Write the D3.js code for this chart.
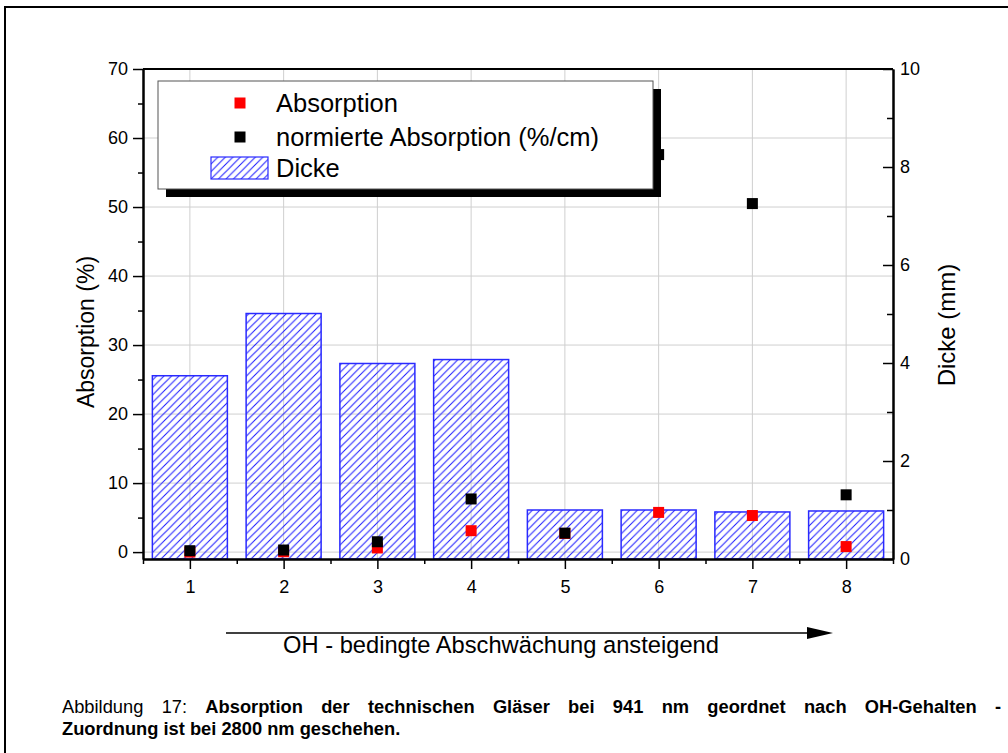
<!DOCTYPE html>
<html>
<head>
<meta charset="utf-8">
<script src="https://cdn.jsdelivr.net/npm/d3@7"></script>
<style>
  body { margin: 0; background: #fff; }
  svg { display: block; }
  text { font-family: "Liberation Sans", Arial, sans-serif; fill: #000; }
</style>
</head>
<body>
<svg id="chart" width="1008" height="753"></svg>
<script>
// Glass samples ordered by OH content
const categories = [1, 2, 3, 4, 5, 6, 7, 8];
// Absorption at 941 nm (%)
const absorption = [0.0, 0.05, 0.6, 3.1, 2.7, 5.75, 5.3, 0.8];
// Absorption normalised to thickness (%/cm)
const normAbsorption = [0.2, 0.3, 1.5, 7.7, 2.75, 57.6, 50.5, 8.3];
// Sample thickness (mm)
const thickness = [3.74, 5.01, 3.99, 4.07, 1.0, 1.0, 0.96, 0.98];

const leftTicks = [0, 10, 20, 30, 40, 50, 60, 70];
const leftMinor = [5, 15, 25, 35, 45, 55, 65];
const rightTicks = [0, 2, 4, 6, 8, 10];
const rightMinor = [1, 3, 5, 7, 9];
const xMinor = [0.5, 1.5, 2.5, 3.5, 4.5, 5.5, 6.5, 7.5, 8.5];
const legendLabels = ["Absorption", "normierte Absorption (%/cm)", "Dicke"];
const leftTitle = "Absorption (%)";
const rightTitle = "Dicke (mm)";
const arrowLabel = "OH - bedingte Abschwächung ansteigend";
const captionLead = "Abbildung 17: ";
const captionBold1 = "Absorption der technischen Gläser bei 941 nm geordnet nach OH-Gehalten -";
const captionBold2 = "Zuordnung ist bei 2800 nm geschehen.";

const svg = d3.select("#chart");
const plot = { left: 143, right: 893, top: 69, bottom: 559 };

const x = d3.scaleLinear().domain([0.5, 8.5]).range([plot.left, plot.right]);
const yL = d3.scaleLinear().domain([-1, 70]).range([plot.bottom, plot.top]);
const yR = d3.scaleLinear().domain([0, 10]).range([plot.bottom, plot.top]);

// outer page frame
svg.append("path")
  .attr("d", "M5,760 V7 H1015")
  .attr("fill", "none").attr("stroke", "#000").attr("stroke-width", 2);

// hatch pattern for thickness bars
const defs = svg.append("defs");
const pat = defs.append("pattern")
  .attr("id", "hatch").attr("patternUnits", "userSpaceOnUse")
  .attr("width", 7.5).attr("height", 7.5);
pat.append("path")
  .attr("d", "M-1,1 L1,-1 M0,7.5 L7.5,0 M6.5,8.5 L8.5,6.5")
  .attr("stroke", "#1a1aff").attr("stroke-width", 1).attr("fill", "none");

// grid
const grid = svg.append("g").attr("stroke", "#cfcfcf").attr("stroke-width", 1);
grid.selectAll(".gh").data(leftTicks.filter(d => d < 70)).join("line")
  .attr("x1", plot.left).attr("x2", plot.right)
  .attr("y1", d => yL(d)).attr("y2", d => yL(d));
grid.selectAll(".gv").data(categories).join("line")
  .attr("x1", d => x(d)).attr("x2", d => x(d))
  .attr("y1", plot.top).attr("y2", plot.bottom);

// thickness bars (right axis)
const barW = x(0.8) - x(0);
svg.append("g").selectAll("rect").data(categories).join("rect")
  .attr("x", (d) => x(d) - barW / 2)
  .attr("width", barW)
  .attr("y", (d, i) => yR(thickness[i]))
  .attr("height", (d, i) => yR(0) - yR(thickness[i]))
  .attr("fill", "url(#hatch)")
  .attr("stroke", "#2a2aff").attr("stroke-width", 1.5);

// scatter markers (left axis)
const ms = 11;
svg.append("g").selectAll("rect").data(categories).join("rect")
  .attr("x", d => x(d) - ms / 2)
  .attr("y", (d, i) => yL(absorption[i]) - ms / 2)
  .attr("width", ms).attr("height", ms)
  .attr("fill", "#ff0000");
svg.append("g").selectAll("rect").data(categories).join("rect")
  .attr("x", d => x(d) - ms / 2)
  .attr("y", (d, i) => yL(normAbsorption[i]) - ms / 2)
  .attr("width", ms).attr("height", ms)
  .attr("fill", "#000");

// axes
function styleAxis(g) {
  g.selectAll("path").attr("stroke", "#000").attr("stroke-width", 2);
  g.selectAll("line").attr("stroke", "#000").attr("stroke-width", 1.5);
  g.selectAll("text").attr("font-size", 18).attr("fill", "#000")
    .style("font-family", '"Liberation Sans", Arial, sans-serif');
}

svg.append("g").attr("transform", `translate(${plot.left},0)`)
  .call(d3.axisLeft(yL).tickValues(leftMinor).tickSize(5).tickFormat("").tickSizeOuter(0))
  .call(styleAxis);
svg.append("g").attr("transform", `translate(${plot.left},0)`)
  .call(d3.axisLeft(yL).tickValues(leftTicks).tickSize(10).tickPadding(5).tickSizeOuter(0))
  .call(styleAxis);

svg.append("g").attr("transform", `translate(${plot.right},0)`)
  .call(d3.axisRight(yR).tickValues(rightMinor).tickSize(-6).tickFormat("").tickSizeOuter(0))
  .call(styleAxis);
svg.append("g").attr("transform", `translate(${plot.right},0)`)
  .call(d3.axisRight(yR).tickValues(rightTicks).tickSize(-10).tickPadding(7).tickSizeOuter(0))
  .call(styleAxis);

svg.append("g").attr("transform", `translate(0,${plot.bottom})`)
  .call(d3.axisBottom(x).tickValues(xMinor).tickSize(5).tickFormat("").tickSizeOuter(0))
  .call(styleAxis);
svg.append("g").attr("transform", `translate(0,${plot.bottom})`)
  .call(d3.axisBottom(x).tickValues(categories).tickSize(10).tickPadding(11).tickSizeOuter(0))
  .call(styleAxis);

// top frame line
svg.append("line")
  .attr("x1", plot.left).attr("x2", plot.right)
  .attr("y1", plot.top).attr("y2", plot.top)
  .attr("stroke", "#000").attr("stroke-width", 2);

// axis titles
svg.append("text")
  .attr("transform", `translate(94,332) rotate(-90)`)
  .attr("text-anchor", "middle").attr("font-size", 23)
  .text(leftTitle);
svg.append("text")
  .attr("transform", `translate(955,325) rotate(-90)`)
  .attr("text-anchor", "middle").attr("font-size", 24)
  .text(rightTitle);

// legend with drop shadow
const lg = { x: 158, y: 81, w: 495, h: 108 };
svg.append("rect").attr("x", lg.x + 8).attr("y", lg.y + 8)
  .attr("width", lg.w).attr("height", lg.h).attr("fill", "#000");
svg.append("rect").attr("x", lg.x).attr("y", lg.y)
  .attr("width", lg.w).attr("height", lg.h)
  .attr("fill", "#fff").attr("stroke", "#555").attr("stroke-width", 1);
const lgRows = [103, 137, 168];
svg.append("rect").attr("x", 240 - 5.5).attr("y", lgRows[0] - 5.5)
  .attr("width", 11).attr("height", 11).attr("fill", "#ff0000");
svg.append("rect").attr("x", 240 - 5.5).attr("y", lgRows[1] - 5.5)
  .attr("width", 11).attr("height", 11).attr("fill", "#000");
svg.append("rect").attr("x", 211).attr("y", 157).attr("width", 57).attr("height", 22)
  .attr("fill", "url(#hatch)").attr("stroke", "#2a2aff").attr("stroke-width", 1.2);
svg.append("g").selectAll("text").data(legendLabels).join("text")
  .attr("x", 276).attr("y", (d, i) => lgRows[i])
  .attr("dy", "0.36em").attr("font-size", 25.5)
  .text(d => d);

// direction arrow below the axis
svg.append("line").attr("x1", 226).attr("x2", 810).attr("y1", 633).attr("y2", 633)
  .attr("stroke", "#000").attr("stroke-width", 1.3);
svg.append("path").attr("d", "M807,627 L833,633 L807,639 Z").attr("fill", "#000");
svg.append("text").attr("x", 501).attr("y", 653)
  .attr("text-anchor", "middle").attr("font-size", 23.7)
  .text(arrowLabel);

// figure caption (first line justified)
const cap1 = svg.append("text").attr("x", 62).attr("y", 713).attr("font-size", 18.3);
cap1.append("tspan").text(captionLead);
cap1.append("tspan").attr("font-weight", "bold").text(captionBold1);
const natural = cap1.node().getComputedTextLength();
const spaces = (captionLead + captionBold1).split(" ").length - 1;
const target = 1001 - 62;
cap1.attr("word-spacing", Math.max(0, (target - natural) / spaces));
svg.append("text").attr("x", 62).attr("y", 735).attr("font-size", 18.3)
  .attr("font-weight", "bold").text(captionBold2);
</script>
</body>
</html>
